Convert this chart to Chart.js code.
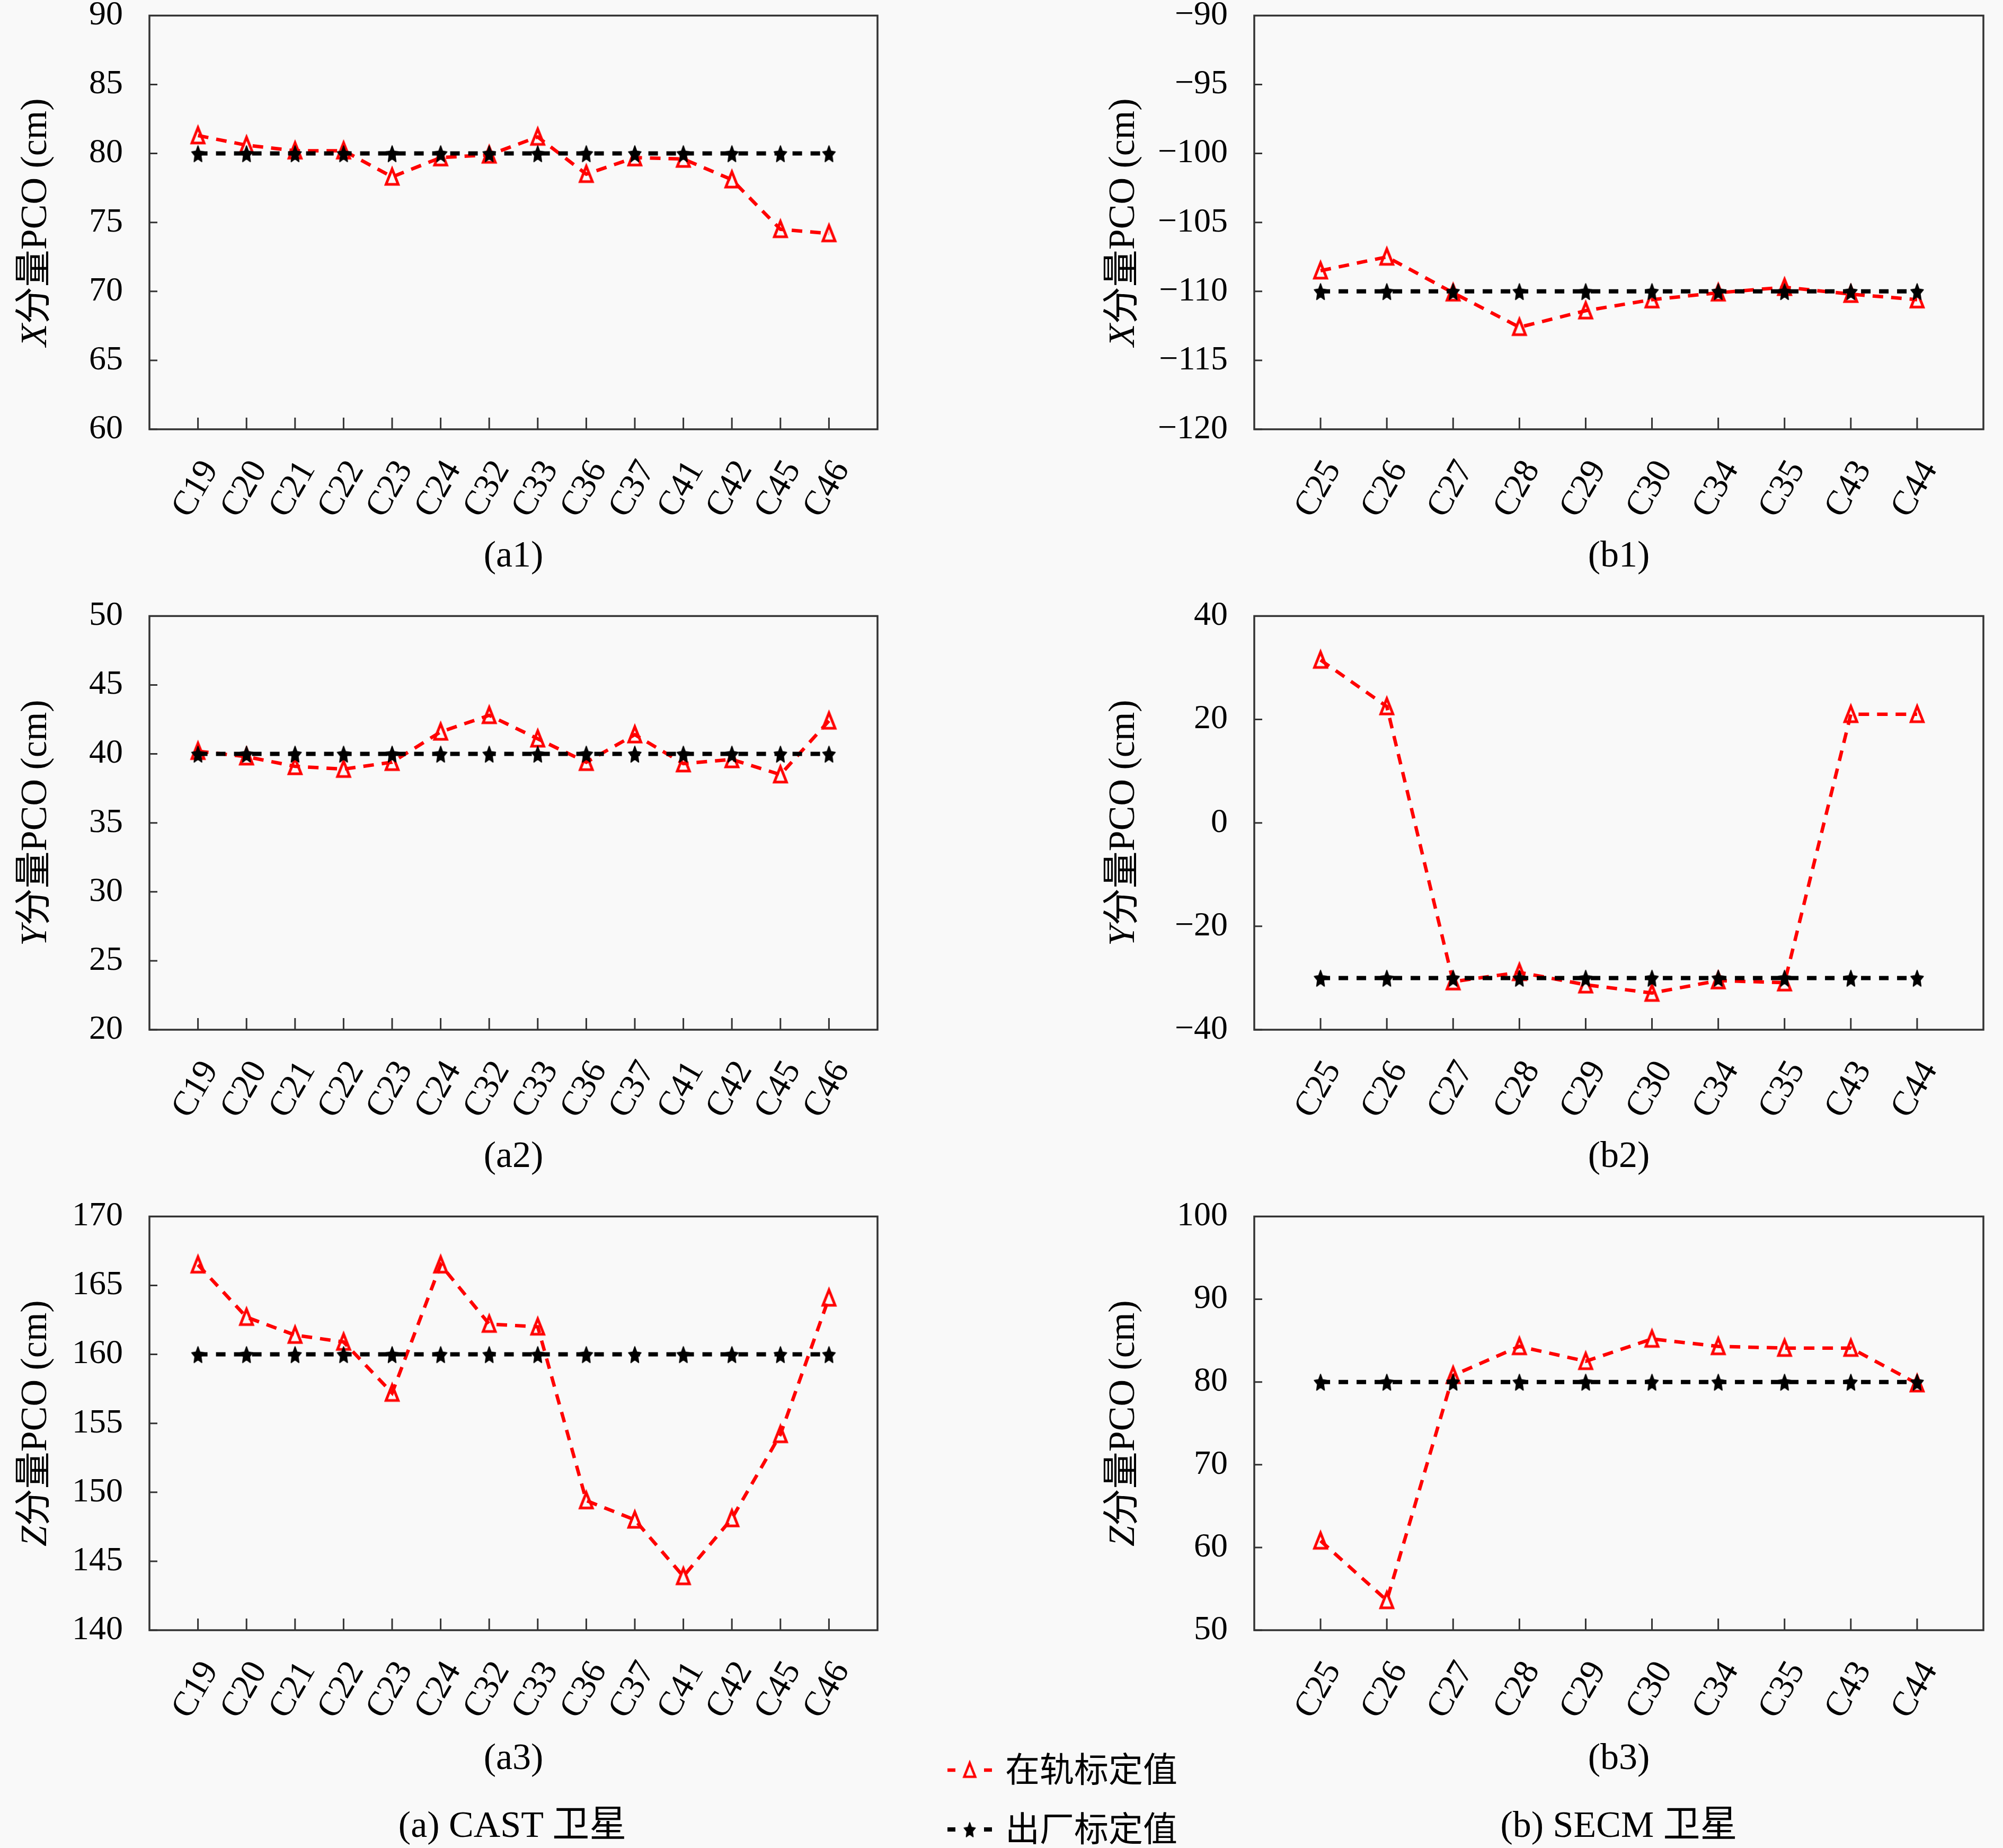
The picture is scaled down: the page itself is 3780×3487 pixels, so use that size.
<!DOCTYPE html>
<html><head><meta charset="utf-8">
<script src="https://cdn.jsdelivr.net/npm/chart.js@4.4.1/dist/chart.umd.min.js"></script>
<style>
html,body{margin:0;padding:0;background:#f9f9f9;width:3780px;height:3487px;overflow:hidden;position:relative;}
canvas.cv{position:absolute;}
.txt{position:absolute;transform:translate(-50%,-50%);font-family:"Liberation Serif","Noto Sans CJK SC",serif;font-size:70px;color:#000;white-space:nowrap;line-height:1;}
.leg{position:absolute;font-family:"Noto Sans CJK SC","Liberation Serif",serif;font-size:65px;color:#000;white-space:nowrap;line-height:1;transform:translateY(-50%);}
</style></head><body>
<script>
// ---------------- data ----------------
const catsA = ['C19','C20','C21','C22','C23','C24','C32','C33','C36','C37','C41','C42','C45','C46'];
const catsB = ['C25','C26','C27','C28','C29','C30','C34','C35','C43','C44'];

const a1Orbit   = [81.3, 80.6, 80.2, 80.2, 78.3, 79.7, 79.9, 81.2, 78.5, 79.7, 79.6, 78.1, 74.5, 74.2];
const a1Factory = [80, 80, 80, 80, 80, 80, 80, 80, 80, 80, 80, 80, 80, 80];
const a2Orbit   = [40.2, 39.8, 39.1, 38.9, 39.4, 41.6, 42.8, 41.1, 39.4, 41.4, 39.3, 39.6, 38.5, 42.4];
const a2Factory = [40, 40, 40, 40, 40, 40, 40, 40, 40, 40, 40, 40, 40, 40];
const a3Orbit   = [166.5, 162.7, 161.4, 160.9, 157.2, 166.5, 162.2, 162.0, 149.4, 148.0, 143.9, 148.1, 154.2, 164.1];
const a3Factory = [160, 160, 160, 160, 160, 160, 160, 160, 160, 160, 160, 160, 160, 160];

const b1Orbit   = [-108.5, -107.5, -110.1, -112.6, -111.4, -110.6, -110.1, -109.7, -110.2, -110.6];
const b1Factory = [-110, -110, -110, -110, -110, -110, -110, -110, -110, -110];
const b2Orbit   = [31.5, 22.5, -30.7, -28.9, -31.3, -32.9, -30.5, -30.9, 21.0, 21.0];
const b2Factory = [-30, -30, -30, -30, -30, -30, -30, -30, -30, -30];
const b3Orbit   = [60.8, 53.6, 80.8, 84.3, 82.5, 85.2, 84.3, 84.1, 84.1, 79.8];
const b3Factory = [80, 80, 80, 80, 80, 80, 80, 80, 80, 80];

const yRanges = { a1:[60,90,5], a2:[20,50,5], a3:[140,170,5], b1:[-120,-90,5], b2:[-40,40,20], b3:[50,100,10] };
const yTitleVars = ['X', 'Y', 'Z'];
const yTitleRest = '分量PCO (cm)';
const subCaptions = ['(a1)','(b1)','(a2)','(b2)','(a3)','(b3)'];
const mainCaptions = ['(a) CAST 卫星', '(b) SECM 卫星'];
const seriesNames = ['在轨标定值', '出厂标定值'];

// ---------------- layout ----------------
const FAM = '"Liberation Serif", "Noto Sans CJK SC", serif';
const rowTops = [29, 1162, 2295];
const PLOT_H = 781;
const PADT = 60, XAXH = 200;
const TITLE_X = 69;
const cols = [
  {left:0,    width:1700, axisW:282, padR:44, plotL:282,  plotR:1656},
  {left:2053, width:1727, axisW:314, padR:37, plotL:2367, plotR:3743}
];

function makeStar(){
  const s = 40, c = document.createElement('canvas');
  c.width = s; c.height = s;
  const g = c.getContext('2d');
  g.fillStyle = '#000';
  g.strokeStyle = '#000';
  g.lineWidth = 2;
  g.lineJoin = 'round';
  g.beginPath();
  for (let i = 0; i < 10; i++) {
    const r = (i % 2) ? 8 : 16.5;
    const a = -Math.PI/2 + i*Math.PI/5;
    g.lineTo(s/2 + 0.75*r*Math.cos(a), s/2 + 2 + r*Math.sin(a));
  }
  g.closePath(); g.fill(); g.stroke();
  return c;
}
function makeTri(){
  const w = 46, h = 52, c = document.createElement('canvas');
  c.width = w; c.height = h;
  const g = c.getContext('2d');
  g.strokeStyle = '#ff0000';
  g.lineWidth = 5;
  g.lineJoin = 'miter';
  g.beginPath();
  g.moveTo(w/2, h/2 - 15);
  g.lineTo(w/2 + 11.5, h/2 + 14);
  g.lineTo(w/2 - 11.5, h/2 + 14);
  g.closePath(); g.stroke();
  return c;
}
const STAR = makeStar();
const TRI = makeTri();

const framePlugin = {
  id: 'frame',
  beforeDatasetsDraw(chart){
    const {ctx, chartArea:a, scales} = chart;
    ctx.save();
    ctx.strokeStyle = '#333';
    ctx.lineWidth = 3;
    ctx.beginPath();
    scales.x.ticks.forEach(t => {
      const px = scales.x.getPixelForValue(t.value);
      ctx.moveTo(px, a.bottom); ctx.lineTo(px, a.bottom - 22);
    });
    scales.y.ticks.forEach(t => {
      const py = scales.y.getPixelForValue(t.value);
      ctx.moveTo(a.left, py); ctx.lineTo(a.left + 15, py);
    });
    ctx.stroke();
    ctx.lineWidth = 3.5;
    ctx.strokeRect(a.left, a.top, a.right - a.left, a.bottom - a.top);
    ctx.restore();
  }
};

// y-axis title with an italic variable letter
const yTitlePlugin = {
  id: 'ytitle',
  afterDraw(chart, args, opts){
    const {ctx, chartArea:a} = chart;
    const fItal = 'italic 70px ' + FAM, fNorm = '70px ' + FAM;
    ctx.save();
    ctx.fillStyle = '#000';
    ctx.textBaseline = 'middle';
    ctx.translate(TITLE_X, (a.top + a.bottom)/2);
    ctx.rotate(-Math.PI/2);
    ctx.font = fItal; const w1 = ctx.measureText(opts.v).width;
    ctx.font = fNorm; const w2 = ctx.measureText(yTitleRest).width;
    let x = -(w1 + w2)/2;
    ctx.font = fItal; ctx.textAlign = 'left'; ctx.fillText(opts.v, x, 0);
    ctx.font = fNorm; ctx.fillText(yTitleRest, x + w1, 0);
    ctx.restore();
  }
};

function buildChart(cv, c, cats, orbit, factory, range, v){
  const n = cats.length;
  return new Chart(cv, {
    type: 'line',
    data: { datasets: [
      { label: seriesNames[1], data: factory.map((val,i)=>({x:i+1, y:val})),
        borderColor:'#000', borderWidth:8, borderDash:[18,16], tension:0,
        pointStyle: STAR, pointRadius:16, order:0 },
      { label: seriesNames[0], data: orbit.map((val,i)=>({x:i+1, y:val})),
        borderColor:'#ff0000', borderWidth:6.5, borderDash:[20,15], tension:0,
        pointStyle: TRI, pointRadius:18, order:1 }
    ]},
    options: {
      responsive:false, animation:false, devicePixelRatio:1,
      layout:{ padding:{ top:PADT, right:c.padR, left:0, bottom:0 } },
      plugins:{ legend:{display:false}, tooltip:{enabled:false}, ytitle:{v:v} },
      scales:{
        x:{ type:'linear', min:0, max:n+1,
            afterBuildTicks(s){ s.ticks = cats.map((_,i)=>({value:i+1})); },
            ticks:{ autoSkip:false, minRotation:60, maxRotation:60, padding:46, labelOffset:24,
                    callback:(val)=>cats[val-1] || '', font:{family:FAM, size:66}, color:'#000' },
            grid:{ display:false, drawTicks:false }, border:{display:false},
            afterFit(s){ s.height = XAXH; } },
        y:{ min:range[0], max:range[1],
            ticks:{ stepSize:range[2], padding:50, font:{family:FAM, size:64}, color:'#000',
                    callback:(val)=>String(val).replace('-', '\u2212') },
            grid:{ display:false, drawTicks:false }, border:{display:false},
            title:{ display:false },
            afterFit(s){ s.width = c.axisW; } }
      }
    },
    plugins:[framePlugin, yTitlePlugin]
  });
}

function panel(row, col, cats, orbit, factory, range, v){
  const c = cols[col];
  const cv = document.createElement('canvas');
  cv.className = 'cv';
  cv.width = c.width;
  cv.height = PADT + PLOT_H + XAXH;
  cv.style.left = c.left + 'px';
  document.body.appendChild(cv);
  let chart = buildChart(cv, c, cats, orbit, factory, range, v);
  for (let k = 0; k < 4; k++) {
    const a = chart.chartArea;
    const deficit = PLOT_H - (a.bottom - a.top);
    if (Math.abs(deficit) < 0.5) break;
    chart.destroy();
    cv.width = c.width;
    cv.height = Math.round(cv.height + deficit);
    chart = buildChart(cv, c, cats, orbit, factory, range, v);
  }
  cv.style.left = c.left + 'px';
  cv.style.top = (rowTops[row] - chart.chartArea.top) + 'px';
}

panel(0,0,catsA,a1Orbit,a1Factory,yRanges.a1,yTitleVars[0]);
panel(0,1,catsB,b1Orbit,b1Factory,yRanges.b1,yTitleVars[0]);
panel(1,0,catsA,a2Orbit,a2Factory,yRanges.a2,yTitleVars[1]);
panel(1,1,catsB,b2Orbit,b2Factory,yRanges.b2,yTitleVars[1]);
panel(2,0,catsA,a3Orbit,a3Factory,yRanges.a3,yTitleVars[2]);
panel(2,1,catsB,b3Orbit,b3Factory,yRanges.b3,yTitleVars[2]);

// captions
function text(t, x, y, cls){
  const d = document.createElement('div');
  d.className = cls || 'txt';
  d.textContent = t;
  d.style.left = x + 'px'; d.style.top = y + 'px';
  document.body.appendChild(d);
}
const capY = [1046, 2179, 3315];
for (let r = 0; r < 3; r++) {
  text(subCaptions[r*2],   (cols[0].plotL + cols[0].plotR)/2, capY[r]);
  text(subCaptions[r*2+1], (cols[1].plotL + cols[1].plotR)/2, capY[r]);
}
text(mainCaptions[0], 967, 3443);
text(mainCaptions[1], 3055, 3443);

// legend
function legendRow(y, isOrbit, label){
  const c = document.createElement('canvas');
  c.width = 90; c.height = 54; c.className = 'cv';
  c.style.left = '1786px'; c.style.top = (y - 27) + 'px';
  document.body.appendChild(c);
  const g = c.getContext('2d');
  g.fillStyle = isOrbit ? '#ff0000' : '#000';
  const th = isOrbit ? 6.5 : 8;
  g.fillRect(2, 27 - th/2, 15, th);
  g.fillRect(71, 27 - th/2, 15, th);
  const img = isOrbit ? TRI : STAR;
  const sc = 0.9;
  g.drawImage(img, 44 - img.width*sc/2, 27 - img.height*sc/2, img.width*sc, img.height*sc);
  text(label, 1897, y - 6, 'leg');
}
legendRow(3340, true, seriesNames[0]);
legendRow(3452, false, seriesNames[1]);
</script>
</body></html>
